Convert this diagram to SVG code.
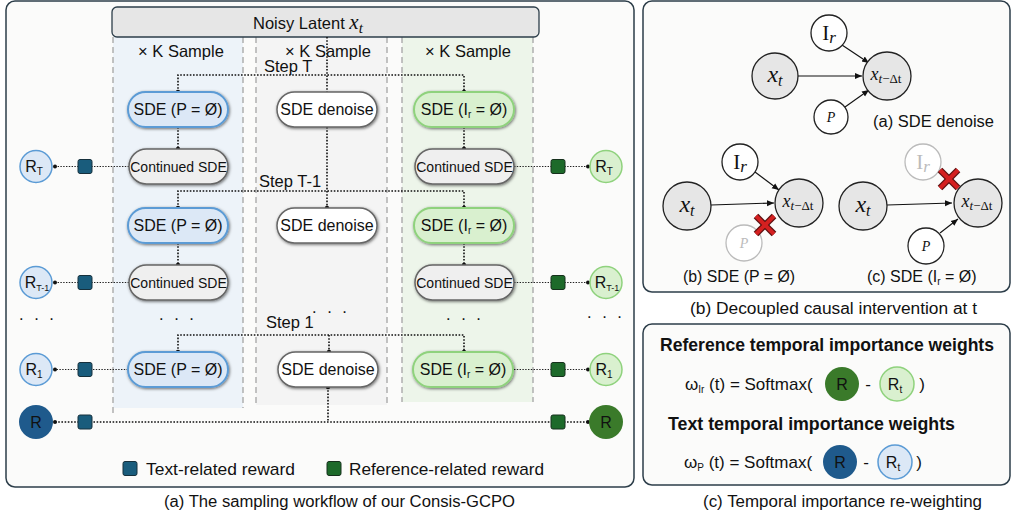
<svg xmlns="http://www.w3.org/2000/svg" width="1013" height="517" viewBox="0 0 1013 517">
<defs>
<style>
text{font-family:"Liberation Sans","DejaVu Sans",sans-serif;fill:#111}
.math{font-family:"Liberation Serif","DejaVu Serif",serif;font-style:italic}
.rm{font-family:"Liberation Serif","DejaVu Serif",serif;font-style:normal}
.panel{fill:#fbfbfa;stroke:#2d3e4a;stroke-width:1.5}
.dash{stroke:#aaa;stroke-width:1.4;stroke-dasharray:6 4;fill:none}
.dot{stroke:#111;stroke-width:1.6;stroke-dasharray:1.6 1.6;fill:none}
.dotr{stroke:#222;stroke-width:1.2;stroke-dasharray:1.4 1.4;fill:none}
.nb{fill:#dce8f6;stroke:#5b9bd5;stroke-width:2}
.ng{fill:#d9f0cf;stroke:#8fd27d;stroke-width:2}
.nc{fill:#efefef;stroke:#666;stroke-width:1.5}
.nw{fill:#fff;stroke:#666;stroke-width:1.5}
.nt{font-size:16px;text-anchor:middle}
.ct{font-size:14px;text-anchor:middle}
.sqb{fill:#195c7c;stroke:#16303c;stroke-width:1}
.sqg{fill:#1d6a2a;stroke:#16301c;stroke-width:1}
.cb{fill:#dce8f6;stroke:#5b9bd5;stroke-width:1.5}
.cg{fill:#d9f0cf;stroke:#8fd27d;stroke-width:1.5}
.cbd{fill:#1f5a8c}
.cgd{fill:#3a7a2a}
.rt{font-size:16px;text-anchor:middle}
.gc{fill:#e6e6e6;stroke:#222;stroke-width:1.3}
.wc{fill:#fff;stroke:#222;stroke-width:1.3}
.fc{fill:#fff;stroke:#bbb;stroke-width:1.3}
.arr{stroke:#111;stroke-width:1.1;fill:none;marker-end:url(#ah)}
.xo{stroke:#5a1010;stroke-width:6.5;stroke-linecap:butt}
.xi{stroke:#d42020;stroke-width:4;stroke-linecap:butt}
.cap{font-size:16px}
</style>
<filter id="sh" x="-20%" y="-40%" width="140%" height="180%">
<feDropShadow dx="0.8" dy="1" stdDeviation="1.6" flood-color="#000" flood-opacity="0.55"/>
</filter>
<marker id="ah" markerWidth="8" markerHeight="8" refX="7" refY="4" orient="auto" markerUnits="userSpaceOnUse">
<path d="M0,1 L7,4 L0,7 Z" fill="#111"/>
</marker>
</defs>

<!-- Panel (a) -->
<g id="panel-a">
<rect class="panel" x="6" y="1" width="628" height="486" rx="9"/>
<rect x="113" y="37" width="130" height="371" fill="#edf3f9"/>
<rect x="256" y="37" width="131" height="368" fill="#f4f4f4"/>
<rect x="402" y="37" width="131" height="365" fill="#edf5ea"/>
<line class="dash" x1="113" y1="37" x2="113" y2="413"/>
<line class="dash" x1="243" y1="37" x2="243" y2="408"/>
<line class="dash" x1="256" y1="37" x2="256" y2="405"/>
<line class="dash" x1="387" y1="37" x2="387" y2="405"/>
<line class="dash" x1="402" y1="37" x2="402" y2="402"/>
<line class="dash" x1="533" y1="37" x2="533" y2="402"/>
</g>

<g id="header">
<rect x="112" y="7" width="427" height="30" rx="5" fill="#e6e6e6" stroke="#2d3e4a" stroke-width="1.3"/>
<text x="253" y="29" font-size="16.5">Noisy Latent <tspan class="math" font-size="21">x</tspan><tspan class="math" font-size="15" dy="4">t</tspan></text>
</g>

<g id="col-labels" font-size="16.5">
<text x="181" y="57" text-anchor="middle">× K Sample</text>
<text x="328" y="57" text-anchor="middle">× K Sample</text>
<text x="468" y="57" text-anchor="middle">× K Sample</text>
<text x="264" y="72">Step T</text>
<text x="259" y="187">Step T-1</text>
<text x="266" y="328">Step 1</text>
<text x="178" y="320" text-anchor="middle" letter-spacing="3">. . .</text>
<text x="331" y="313" text-anchor="middle" letter-spacing="3">. . .</text>
<text x="465" y="320" text-anchor="middle" letter-spacing="3">. . .</text>
<text x="38" y="320" text-anchor="middle" letter-spacing="3">. . .</text>
<text x="606" y="318" text-anchor="middle" letter-spacing="3">. . .</text>
</g>

<!-- connectors -->
<g id="connectors">
<path class="dot" d="M327,37 V92"/>
<path class="dot" d="M178,92 V75 H464 V92"/>
<path class="dot" d="M178,127 V149"/>
<path class="dot" d="M464,127 V149"/>
<path class="dot" d="M327,127 V208"/>
<path class="dot" d="M178,208 V191 H464 V208"/>
<path class="dot" d="M178,243 V265"/>
<path class="dot" d="M464,243 V265"/>
<path class="dot" d="M178,352 V335 H464 V352"/>
<path class="dot" d="M329,335 V352"/>
<path class="dot" d="M328,387 V422"/>
<path class="dot" d="M55,422 H588"/>
<path class="dotr" d="M129,166.5 H54"/>
<path class="dotr" d="M129,282.5 H54"/>
<path class="dotr" d="M128,369.5 H54"/>
<path class="dotr" d="M514,166.5 H589"/>
<path class="dotr" d="M514,282.5 H589"/>
<path class="dotr" d="M514,369.5 H589"/>
<g fill="#111">
<circle cx="178" cy="92" r="2.2"/><circle cx="464" cy="92" r="2.2"/>
<circle cx="178" cy="149" r="2.2"/><circle cx="464" cy="149" r="2.2"/>
<circle cx="327" cy="208" r="2.2"/>
<circle cx="178" cy="208" r="2.2"/><circle cx="464" cy="208" r="2.2"/>
<circle cx="178" cy="265" r="2.2"/><circle cx="464" cy="265" r="2.2"/>
<circle cx="178" cy="352" r="2.2"/><circle cx="329" cy="352" r="2.2"/><circle cx="464" cy="352" r="2.2"/>
<circle cx="328" cy="387" r="2.2"/>
<circle cx="55" cy="166.5" r="2"/><circle cx="55" cy="282.5" r="2"/><circle cx="55" cy="369.5" r="2"/><circle cx="55" cy="422" r="2"/>
<circle cx="588" cy="166.5" r="2"/><circle cx="588" cy="282.5" r="2"/><circle cx="588" cy="369.5" r="2"/><circle cx="588" cy="422" r="2"/>
</g>
</g>

<!-- nodes blue column -->
<g id="sde-p-1"><rect class="nb" x="128" y="92" width="100" height="35" rx="17.5" filter="url(#sh)"/><text class="nt" x="178" y="115">SDE (P = Ø)</text></g>
<g id="cont-p-1"><rect class="nc" x="129" y="149" width="99" height="35" rx="17.5" filter="url(#sh)"/><text class="ct" x="178.5" y="171.5">Continued SDE</text></g>
<g id="sde-p-2"><rect class="nb" x="128" y="208" width="100" height="35" rx="17.5" filter="url(#sh)"/><text class="nt" x="178" y="231">SDE (P = Ø)</text></g>
<g id="cont-p-2"><rect class="nc" x="129" y="265" width="99" height="35" rx="17.5" filter="url(#sh)"/><text class="ct" x="178.5" y="287.5">Continued SDE</text></g>
<g id="sde-p-3"><rect class="nb" x="128" y="352" width="100" height="35" rx="17.5" filter="url(#sh)"/><text class="nt" x="178" y="375">SDE (P = Ø)</text></g>

<!-- nodes middle column -->
<g id="denoise-1"><rect class="nw" x="277" y="92" width="100" height="35" rx="17.5" filter="url(#sh)"/><text class="nt" x="327" y="115">SDE denoise</text></g>
<g id="denoise-2"><rect class="nw" x="277" y="208" width="100" height="35" rx="17.5" filter="url(#sh)"/><text class="nt" x="327" y="231">SDE denoise</text></g>
<g id="denoise-3"><rect class="nw" x="278" y="352" width="100" height="35" rx="17.5" filter="url(#sh)"/><text class="nt" x="328" y="375">SDE denoise</text></g>

<!-- nodes green column -->
<g id="sde-i-1"><rect class="ng" x="414" y="92" width="100" height="35" rx="17.5" filter="url(#sh)"/><text class="nt" x="464" y="115">SDE (I<tspan font-size="10" dy="3">r</tspan><tspan dy="-3"> = Ø)</tspan></text></g>
<g id="cont-i-1"><rect class="nc" x="415" y="149" width="99" height="35" rx="17.5" filter="url(#sh)"/><text class="ct" x="464.5" y="171.5">Continued SDE</text></g>
<g id="sde-i-2"><rect class="ng" x="414" y="208" width="100" height="35" rx="17.5" filter="url(#sh)"/><text class="nt" x="464" y="231">SDE (I<tspan font-size="10" dy="3">r</tspan><tspan dy="-3"> = Ø)</tspan></text></g>
<g id="cont-i-2"><rect class="nc" x="415" y="265" width="99" height="35" rx="17.5" filter="url(#sh)"/><text class="ct" x="464.5" y="287.5">Continued SDE</text></g>
<g id="sde-i-3"><rect class="ng" x="413" y="352" width="100" height="35" rx="17.5" filter="url(#sh)"/><text class="nt" x="463" y="375">SDE (I<tspan font-size="10" dy="3">r</tspan><tspan dy="-3"> = Ø)</tspan></text></g>

<!-- reward squares -->
<g id="squares">
<rect class="sqb" x="78" y="159.5" width="14" height="14" rx="2"/>
<rect class="sqb" x="78" y="275.5" width="14" height="14" rx="2"/>
<rect class="sqb" x="78" y="362.5" width="14" height="14" rx="2"/>
<rect class="sqb" x="78" y="415" width="14" height="14" rx="2"/>
<rect class="sqg" x="551" y="159.5" width="14" height="14" rx="2"/>
<rect class="sqg" x="551" y="275.5" width="14" height="14" rx="2"/>
<rect class="sqg" x="551" y="362.5" width="14" height="14" rx="2"/>
<rect class="sqg" x="551" y="415" width="14" height="14" rx="2"/>
</g>

<!-- reward circles -->
<g id="r-t-left"><circle class="cb" cx="36" cy="166.5" r="16"/><text class="rt" x="34" y="172">R<tspan font-size="10" dy="3">T</tspan></text></g>
<g id="r-t1-left"><circle class="cb" cx="36" cy="282.5" r="16"/><text class="rt" x="37" y="288">R<tspan font-size="9" dy="3">T-1</tspan></text></g>
<g id="r-1-left"><circle class="cb" cx="36" cy="369.5" r="16"/><text class="rt" x="34" y="375">R<tspan font-size="10" dy="3">1</tspan></text></g>
<g id="r-left"><circle class="cbd" cx="36" cy="422" r="17"/><text class="rt" x="36" y="427.5">R</text></g>
<g id="r-t-right"><circle class="cg" cx="606" cy="166.5" r="16"/><text class="rt" x="604" y="172">R<tspan font-size="10" dy="3">T</tspan></text></g>
<g id="r-t1-right"><circle class="cg" cx="606" cy="282.5" r="16"/><text class="rt" x="607" y="288">R<tspan font-size="9" dy="3">T-1</tspan></text></g>
<g id="r-1-right"><circle class="cg" cx="606" cy="369.5" r="16"/><text class="rt" x="604" y="375">R<tspan font-size="10" dy="3">1</tspan></text></g>
<g id="r-right"><circle class="cgd" cx="606" cy="422" r="17"/><text class="rt" x="606" y="427.5">R</text></g>

<!-- legend -->
<g id="legend">
<rect class="sqb" x="123" y="461.5" width="14" height="14" rx="2"/>
<text x="146" y="475" font-size="17" textLength="149" lengthAdjust="spacingAndGlyphs">Text-related reward</text>
<rect class="sqg" x="327" y="461.5" width="14" height="14" rx="2"/>
<text x="349" y="475" font-size="17" textLength="195" lengthAdjust="spacingAndGlyphs">Reference-related reward</text>
</g>
<text class="cap" x="164" y="507" textLength="351" lengthAdjust="spacingAndGlyphs">(a) The sampling workflow of our Consis-GCPO</text>

<!-- Panel (b) -->
<g id="panel-b">
<rect class="panel" x="643" y="1" width="367" height="291" rx="9"/>
</g>
<g id="causal-a">
<line class="arr" x1="798" y1="76" x2="862" y2="76"/>
<line class="arr" x1="842" y1="45" x2="869" y2="63"/>
<line class="arr" x1="845" y1="107" x2="869" y2="90"/>
<circle class="gc" cx="775" cy="76" r="23"/>
<text class="math" x="775" y="82" font-size="24" text-anchor="middle">x<tspan font-size="16" dy="4">t</tspan></text>
<circle class="gc" cx="887" cy="76" r="24"/>
<text class="math" x="886" y="80" font-size="18" text-anchor="middle">x<tspan font-size="13" dy="3">t</tspan><tspan class="rm" font-size="13">−Δt</tspan></text>
<circle class="wc" cx="829" cy="33" r="18"/>
<text x="829" y="40" font-size="21" text-anchor="middle"><tspan class="rm">I</tspan><tspan class="math" font-size="17" dy="3">r</tspan></text>
<circle class="wc" cx="831" cy="117" r="17"/>
<text class="math" x="831" y="122" font-size="14" text-anchor="middle">P</text>
<text x="873" y="127" font-size="16" textLength="121" lengthAdjust="spacingAndGlyphs">(a) SDE denoise</text>
</g>
<g id="causal-b">
<line class="arr" x1="711" y1="205" x2="774" y2="203"/>
<line class="arr" x1="755" y1="172" x2="779" y2="190"/>
<circle class="gc" cx="687" cy="206" r="24"/>
<text class="math" x="687" y="212" font-size="24" text-anchor="middle">x<tspan font-size="16" dy="4">t</tspan></text>
<circle class="gc" cx="799" cy="203" r="24"/>
<text class="math" x="798" y="207" font-size="18" text-anchor="middle">x<tspan font-size="13" dy="3">t</tspan><tspan class="rm" font-size="13">−Δt</tspan></text>
<circle class="wc" cx="740" cy="162" r="18"/>
<text x="740" y="169" font-size="21" text-anchor="middle"><tspan class="rm">I</tspan><tspan class="math" font-size="17" dy="3">r</tspan></text>
<circle class="fc" cx="744" cy="243" r="18"/>
<text class="math" x="744" y="248" font-size="14" text-anchor="middle" style="fill:#bbb">P</text>
<line class="xo" x1="756" y1="216" x2="774" y2="234"/><line class="xo" x1="774" y1="216" x2="756" y2="234"/>
<line class="xi" x1="756" y1="216" x2="774" y2="234"/><line class="xi" x1="774" y1="216" x2="756" y2="234"/>
<text x="683" y="282" font-size="16" textLength="112" lengthAdjust="spacingAndGlyphs">(b) SDE (P = Ø)</text>
</g>
<g id="causal-c">
<line class="arr" x1="887" y1="205" x2="952" y2="203"/>
<line class="arr" x1="940" y1="233" x2="958" y2="219"/>
<circle class="gc" cx="863" cy="206" r="24"/>
<text class="math" x="863" y="212" font-size="24" text-anchor="middle">x<tspan font-size="16" dy="4">t</tspan></text>
<circle class="gc" cx="978" cy="203" r="24"/>
<text class="math" x="977" y="207" font-size="18" text-anchor="middle">x<tspan font-size="13" dy="3">t</tspan><tspan class="rm" font-size="13">−Δt</tspan></text>
<circle class="fc" cx="923" cy="162" r="18"/>
<text x="923" y="169" font-size="21" text-anchor="middle" style="fill:#bbb"><tspan class="rm" style="fill:#bbb">I</tspan><tspan class="math" font-size="17" dy="3" style="fill:#bbb">r</tspan></text>
<circle class="wc" cx="926" cy="246" r="18"/>
<text class="math" x="926" y="251" font-size="14" text-anchor="middle">P</text>
<line class="xo" x1="940" y1="170" x2="958" y2="188"/><line class="xo" x1="958" y1="170" x2="940" y2="188"/>
<line class="xi" x1="940" y1="170" x2="958" y2="188"/><line class="xi" x1="958" y1="170" x2="940" y2="188"/>
<text x="867" y="282" font-size="16">(c) SDE (I<tspan font-size="10" dy="3">r</tspan><tspan dy="-3"> = Ø)</tspan></text>
</g>
<text class="cap" x="690" y="314" textLength="287" lengthAdjust="spacingAndGlyphs">(b) Decoupled causal intervention at t</text>

<!-- Panel (c) -->
<g id="panel-c">
<rect class="panel" x="643" y="324" width="367" height="161" rx="9"/>
</g>
<g id="weights-ref">
<text x="660" y="351" font-size="18" font-weight="bold" textLength="334" lengthAdjust="spacingAndGlyphs">Reference temporal importance weights</text>
<text x="685" y="390" font-size="17">ω<tspan font-size="10" dy="3">Ir</tspan><tspan dy="-3"> (t) = Softmax(</tspan></text>
<circle class="cgd" cx="842" cy="384" r="17"/>
<text class="rt" x="842" y="390">R</text>
<text x="868" y="390" font-size="17" text-anchor="middle">-</text>
<circle class="cg" cx="897" cy="384" r="17"/>
<text class="rt" x="895" y="390">R<tspan font-size="10" dy="3">t</tspan></text>
<text x="922" y="390" font-size="17" text-anchor="middle">)</text>
</g>
<g id="weights-text">
<text x="668" y="430" font-size="18" font-weight="bold" textLength="287" lengthAdjust="spacingAndGlyphs">Text temporal importance weights</text>
<text x="684" y="468" font-size="17">ω<tspan font-size="10" dy="3">P</tspan><tspan dy="-3"> (t) = Softmax(</tspan></text>
<circle class="cbd" cx="840" cy="462" r="17"/>
<text class="rt" x="840" y="468">R</text>
<text x="866" y="468" font-size="17" text-anchor="middle">-</text>
<circle class="cb" cx="895" cy="462" r="17"/>
<text class="rt" x="893" y="468">R<tspan font-size="10" dy="3">t</tspan></text>
<text x="919" y="468" font-size="17" text-anchor="middle">)</text>
</g>
<text class="cap" x="703" y="507" textLength="279" lengthAdjust="spacingAndGlyphs">(c) Temporal importance re-weighting</text>
</svg>
